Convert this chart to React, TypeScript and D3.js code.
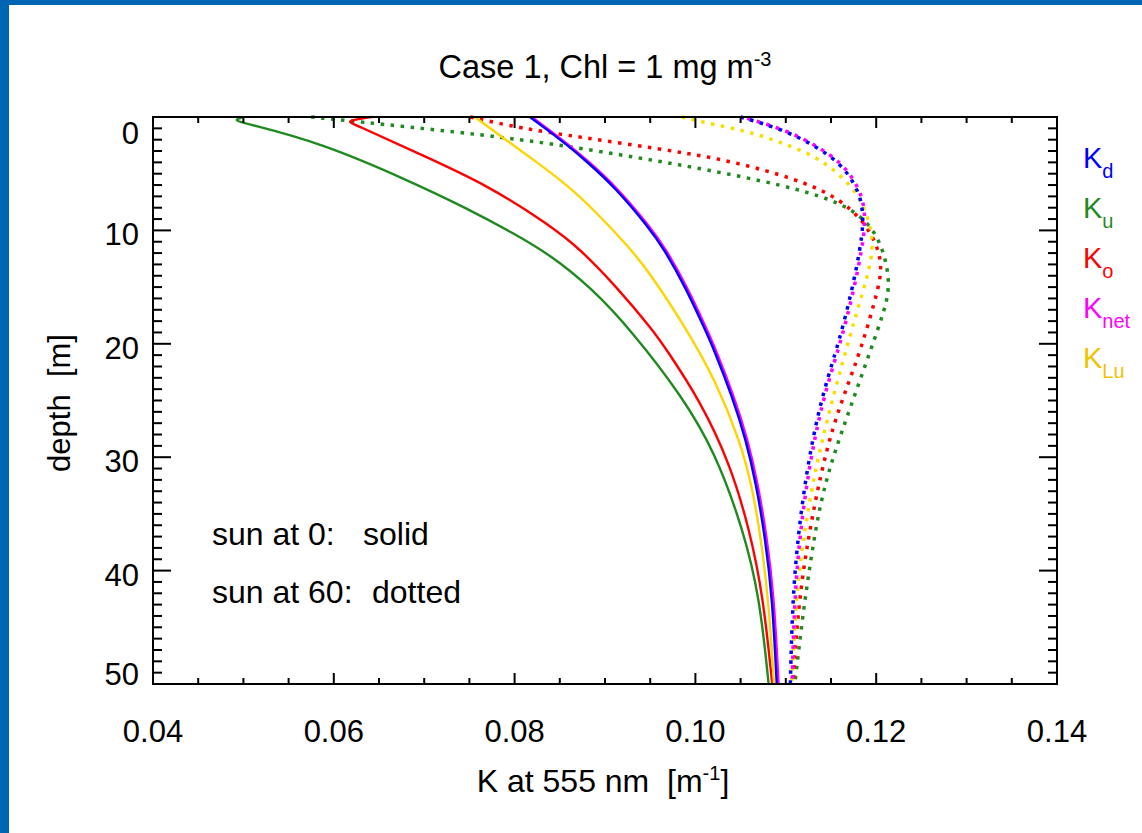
import * as d3 from "d3";

const width = 1142;
const height = 833;
const box = { left: 153, right: 1057, top: 117, bottom: 684 };
const font = "'Liberation Sans', Arial, Helvetica, sans-serif";

// [depth m, K m^-1]
const kdSolid: [number, number][] = [
  [0, 0.0817], [1.3, 0.0839], [2.4, 0.0857], [4.0, 0.0881], [6.2, 0.0911], [9.7, 0.0948],
  [11.6, 0.0965], [15.0, 0.0989], [18.8, 0.1011], [20.4, 0.102], [24.7, 0.1041],
  [28.5, 0.1056], [32.3, 0.1067], [37.0, 0.1077], [42.3, 0.1085], [50, 0.109],
];
const knetSolid: [number, number][] = [
  [0, 0.0819], [1.3, 0.0841], [2.4, 0.0859], [4.0, 0.0883], [6.2, 0.0913], [9.7, 0.095],
  [11.6, 0.0967], [15.0, 0.0991], [18.8, 0.1013], [20.4, 0.1022], [24.7, 0.1043],
  [28.5, 0.1058], [32.3, 0.1069], [37.0, 0.1079], [42.3, 0.1087], [50, 0.1092],
];
const kuSolid: [number, number][] = [
  [0, 0.05], [0.3, 0.0488], [0.6, 0.0505], [2.3, 0.0586], [5.5, 0.068], [8.0, 0.0746],
  [10.3, 0.08], [12.2, 0.084], [15.0, 0.0884], [18.8, 0.0929], [24.7, 0.0986],
  [29.6, 0.1022], [36.4, 0.1053], [42.3, 0.1071], [50, 0.1081],
];
const koSolid: [number, number][] = [
  [0, 0.0642], [0.35, 0.0613], [0.6, 0.0622], [3.2, 0.0693], [6.0, 0.077], [9.5, 0.0838],
  [11.6, 0.0872], [15.0, 0.0913], [18.8, 0.0953], [20.5, 0.0968], [25.0, 0.1005],
  [30.5, 0.1038], [36.4, 0.106], [42.3, 0.1075], [50, 0.1085],
];
const kluSolid: [number, number][] = [
  [0, 0.0756], [2.0, 0.079], [4.0, 0.0825], [6.0, 0.0858], [8.2, 0.0888], [11.6, 0.0928],
  [13.8, 0.095], [18.8, 0.0991], [23.2, 0.1022], [28.5, 0.1049], [32.6, 0.1063],
  [37.9, 0.1074], [43.7, 0.1082], [50, 0.1087],
];

const kdDotted: [number, number][] = [
  [0, 0.105], [1.1, 0.1097], [2.6, 0.1134], [4.1, 0.116], [5.6, 0.1174], [7.3, 0.1184],
  [9.4, 0.1186], [11.7, 0.1182], [15.0, 0.1174], [18.5, 0.1163], [20.5, 0.1156],
  [25.2, 0.1138], [31.1, 0.1123], [37.9, 0.1112], [43.7, 0.1107], [50, 0.1105],
];
const knetDotted: [number, number][] = [
  [0, 0.1052], [1.1, 0.1099], [2.6, 0.1136], [4.1, 0.1162], [5.6, 0.1176], [7.3, 0.1186],
  [9.4, 0.1188], [11.7, 0.1184], [15.0, 0.1176], [18.5, 0.1165], [20.5, 0.1158],
  [25.2, 0.114], [31.1, 0.1125], [37.9, 0.1114], [43.7, 0.1109], [50, 0.1107],
];
const kuDotted: [number, number][] = [
  [0, 0.0575], [0.6, 0.065], [1.6, 0.0768], [2.4, 0.0845], [3.6, 0.0938], [4.6, 0.101],
  [6.0, 0.1097], [7.3, 0.1152], [8.6, 0.1182], [10.6, 0.1204], [14.6, 0.1217],
  [17.3, 0.1208], [20.3, 0.1195], [25.7, 0.1171], [30.0, 0.1152], [34.0, 0.1138],
  [39.3, 0.1127], [44.4, 0.1118], [50, 0.111],
];
const koDotted: [number, number][] = [
  [0, 0.0751], [1.0, 0.0807], [1.8, 0.0875], [2.8, 0.0958], [3.6, 0.1024], [5.1, 0.1097],
  [6.6, 0.1146], [8.2, 0.1174], [10.0, 0.1193], [12.0, 0.1204], [13.8, 0.1206],
  [16.1, 0.1199], [20.5, 0.1183], [23.5, 0.1169], [27.3, 0.1152], [31.7, 0.1138],
  [37.0, 0.1125], [42.9, 0.1114], [50, 0.1108],
];
const kluDotted: [number, number][] = [
  [0, 0.0985], [0.4, 0.1005], [1.3, 0.106], [2.3, 0.1097], [3.5, 0.1134], [5.1, 0.116],
  [6.7, 0.1179], [8.8, 0.1191], [11.1, 0.1197], [13.2, 0.1193], [15.5, 0.1185],
  [19.0, 0.1172], [24.7, 0.1152], [30.5, 0.1134], [37.0, 0.1119], [43.7, 0.111], [50, 0.1107],
];

const legendLabels = [
  { sub: "d", color: "#0000ff" },
  { sub: "u", color: "#1f8a1f" },
  { sub: "o", color: "#ff0000" },
  { sub: "net", color: "#ff00ff" },
  { sub: "Lu", color: "#f2c200" },
];

const series = [
  { data: kuDotted, color: "#1f8a1f", dotted: true, offset: 0 },
  { data: koDotted, color: "#ff0000", dotted: true, offset: 0 },
  { data: kluDotted, color: "#f5e000", dotted: true, offset: 0 },
  { data: knetDotted, color: "#ff00ff", dotted: true, offset: 5 },
  { data: kdDotted, color: "#0000ff", dotted: true, offset: 0 },
  { data: kuSolid, color: "#1f8a1f", dotted: false, offset: 0 },
  { data: koSolid, color: "#ff0000", dotted: false, offset: 0 },
  { data: kluSolid, color: "#ffd400", dotted: false, offset: 0 },
  { data: knetSolid, color: "#ff00ff", dotted: false, offset: 0 },
  { data: kdSolid, color: "#0000ff", dotted: false, offset: 0 },
];

export default function App() {
  const x = d3.scaleLinear().domain([0.04, 0.14]).range([box.left, box.right]);
  const y = d3.scaleLinear().domain([0, 50]).range([box.top, box.bottom]);

  const line = d3
    .line<[number, number]>()
    .x((d) => x(d[1]))
    .y((d) => y(d[0]))
    .curve(d3.curveBasis);

  const xMinor = x.ticks(20);
  const xMajor = x.ticks(5);
  const yMinor = y.ticks(50);
  const yMajor = y.ticks(5);
  const fx = d3.format(".2f");

  // IDL puts the end labels inside the box
  const yLabelPos = (v: number) =>
    Math.min(Math.max(y(v) + 15, box.top + 27), box.bottom + 1);

  const pre = { whiteSpace: "pre" as const };

  return (
    <svg
      width={width}
      height={height}
      style={{ position: "absolute", left: 0, top: 0, background: "#fff" }}
      fontFamily={font}
    >
      <rect x={0} y={0} width={width} height={height} fill="#fff" />
      <rect x={0} y={0} width={9} height={height} fill="#0066b3" />
      <rect x={0} y={0} width={width} height={5} fill="#0066b3" />

      {/* curves */}
      {series.map((s, i) => (
        <path
          key={i}
          d={line(s.data) || ""}
          fill="none"
          stroke={s.color}
          strokeWidth={s.dotted ? 3.5 : 2.4}
          strokeDasharray={s.dotted ? "3.5 6.5" : undefined}
          strokeDashoffset={s.offset}
        />
      ))}

      {/* axis box and ticks */}
      <g stroke="#000" strokeWidth={2}>
        {xMinor.map((t) => {
          const len = xMajor.some((m) => Math.abs(m - t) < 1e-9) ? 11 : 6;
          return (
            <g key={"x" + t}>
              <line x1={x(t)} x2={x(t)} y1={box.bottom} y2={box.bottom - len} />
              <line x1={x(t)} x2={x(t)} y1={box.top} y2={box.top + len} />
            </g>
          );
        })}
        {yMinor.map((t) => {
          const len = t % 10 === 0 ? 18 : 9;
          return (
            <g key={"y" + t}>
              <line x1={box.left} x2={box.left + len} y1={y(t)} y2={y(t)} />
              <line x1={box.right} x2={box.right - len} y1={y(t)} y2={y(t)} />
            </g>
          );
        })}
        <rect
          x={box.left}
          y={box.top}
          width={box.right - box.left}
          height={box.bottom - box.top}
          fill="none"
        />
      </g>

      {/* tick labels */}
      <g fontSize={31} fill="#000">
        {xMajor.map((t) => (
          <text key={"xl" + t} x={x(t)} y={742} textAnchor="middle">
            {fx(t)}
          </text>
        ))}
        {yMajor.map((t) => (
          <text key={"yl" + t} x={139} y={yLabelPos(t)} textAnchor="end">
            {t}
          </text>
        ))}
      </g>

      {/* title and axis titles */}
      <text x={605} y={78} textAnchor="middle" fontSize={32.5} style={pre}>
        <tspan>Case 1, Chl = 1 mg m</tspan>
        <tspan dy={-12} fontSize={20}>-3</tspan>
      </text>
      <text x={603} y={792} textAnchor="middle" fontSize={32} style={pre}>
        <tspan>K at 555 nm  [m</tspan>
        <tspan dy={-12} fontSize={20}>-1</tspan>
        <tspan dy={12}>]</tspan>
      </text>
      <text
        transform="translate(70,403) rotate(-90)"
        textAnchor="middle"
        fontSize={31}
        style={pre}
      >
        depth  [m]
      </text>

      {/* annotations */}
      <g fontSize={32} style={pre}>
        <text x={212} y={545}>sun at 0:</text>
        <text x={363} y={545}>solid</text>
        <text x={212} y={603}>sun at 60:</text>
        <text x={372} y={603}>dotted</text>
      </g>

      {/* legend */}
      {legendLabels.map((l, i) => (
        <text key={l.sub} x={1083} y={168 + i * 50} fill={l.color} fontSize={29}>
          <tspan>K</tspan>
          <tspan dy={10} fontSize={20}>{l.sub}</tspan>
        </text>
      ))}
    </svg>
  );
}
